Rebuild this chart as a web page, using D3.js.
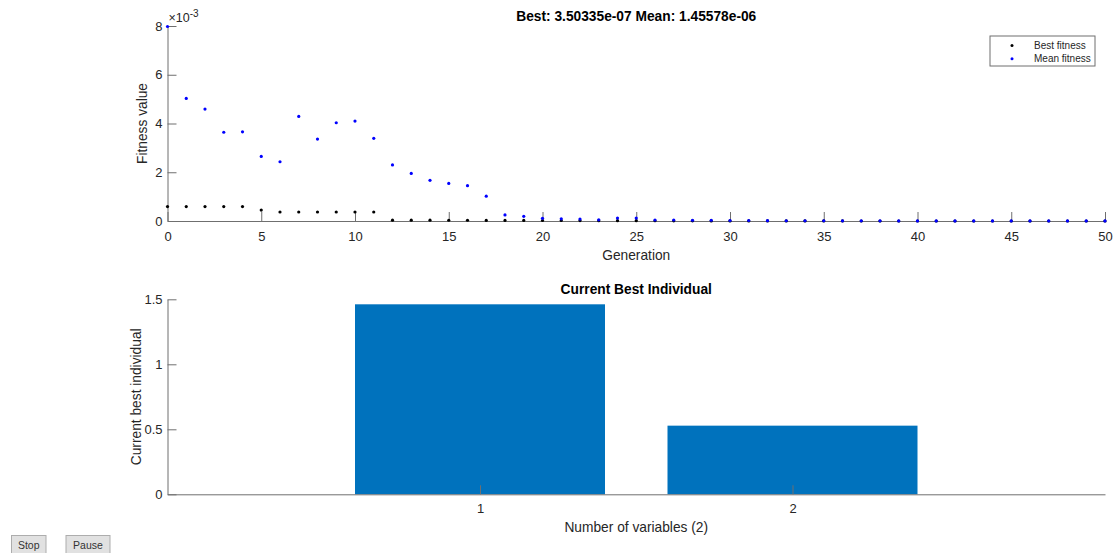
<!DOCTYPE html>
<html>
<head>
<meta charset="utf-8">
<script src="https://cdn.jsdelivr.net/npm/d3@7"></script>
<style>
  html, body { margin: 0; padding: 0; background: #fff; }
  svg { display: block; font-family: "Liberation Sans", Arial, Helvetica, sans-serif; }
</style>
</head>
<body>
<svg id="chart" width="1114" height="553"></svg>
<script>
// Genetic algorithm progress: fitness per generation and the current best individual.
const generations = d3.range(0, 51);
const bestFitness = [
  0.59e-3, 0.59e-3, 0.59e-3, 0.59e-3, 0.59e-3, 0.45e-3, 0.37e-3, 0.37e-3, 0.37e-3, 0.37e-3,
  0.37e-3, 0.37e-3, 0.035e-3, 0.035e-3, 0.035e-3, 0.03e-3, 0.03e-3, 0.025e-3, 0.025e-3, 0.025e-3,
  0.02e-3, 0.02e-3, 0.018e-3, 0.015e-3, 0.015e-3, 0.012e-3, 0.01e-3, 0.008e-3, 0.006e-3, 0.005e-3,
  0.004e-3, 0.003e-3, 0.003e-3, 0.002e-3, 0.002e-3, 0.0015e-3, 0.0012e-3, 0.001e-3, 0.0009e-3, 0.0008e-3,
  0.0007e-3, 0.0006e-3, 0.0005e-3, 0.0005e-3, 0.0004e-3, 0.0004e-3, 0.0004e-3, 0.00036e-3, 0.00035e-3, 0.00035e-3,
  3.50335e-07
];
const meanFitness = [
  7.98e-3, 5.03e-3, 4.59e-3, 3.64e-3, 3.66e-3, 2.65e-3, 2.43e-3, 4.29e-3, 3.36e-3, 4.03e-3,
  4.10e-3, 3.39e-3, 2.30e-3, 1.95e-3, 1.67e-3, 1.54e-3, 1.45e-3, 1.02e-3, 0.25e-3, 0.19e-3,
  0.11e-3, 0.09e-3, 0.08e-3, 0.05e-3, 0.12e-3, 0.12e-3, 0.04e-3, 0.04e-3, 0.03e-3, 0.03e-3,
  0.02e-3, 0.02e-3, 0.015e-3, 0.01e-3, 0.01e-3, 0.01e-3, 0.008e-3, 0.007e-3, 0.006e-3, 0.005e-3,
  0.005e-3, 0.004e-3, 0.004e-3, 0.003e-3, 0.003e-3, 0.003e-3, 0.002e-3, 0.002e-3, 0.002e-3, 0.0015e-3,
  1.45578e-06
];
const fitnessTicks = [0, 0.002, 0.004, 0.006, 0.008];
const generationTicks = [0, 5, 10, 15, 20, 25, 30, 35, 40, 45, 50];

const variableIndex = [1, 2];
const bestIndividual = [1.4615, 0.528];
const individualTicks = [0, 0.5, 1, 1.5];

const legendLabels = ["Best fitness", "Mean fitness"];
const seriesColors = ["#000000", "#0000ff"];

const svg = d3.select("#chart");
const axisColor = "#6f6f6f";
const textColor = "#262626";
const tickFont = 13;
const labelFont = 13.75;

function styleAxis(g) {
  g.select(".domain").attr("stroke", axisColor).attr("stroke-width", 1);
  g.selectAll(".tick line").attr("stroke", axisColor).attr("stroke-width", 1);
  g.selectAll(".tick text").attr("fill", textColor).attr("font-size", tickFont)
    .attr("font-family", "Liberation Sans, Arial, sans-serif");
}

// ---------- Fitness plot ----------
const fitBox = { left: 167.5, right: 1105, top: 26, bottom: 221 };
const xGen = d3.scaleLinear().domain([0, 50]).range([fitBox.left, fitBox.right]);
const yFit = d3.scaleLinear().domain([0, 0.008]).range([fitBox.bottom, fitBox.top]);

svg.append("g")
  .attr("transform", `translate(0,${fitBox.bottom})`)
  .call(d3.axisBottom(xGen).tickValues(generationTicks).tickSizeInner(-9).tickSizeOuter(0).tickPadding(10.5))
  .call(styleAxis);

svg.append("g")
  .attr("transform", `translate(${fitBox.left},0)`)
  .call(d3.axisLeft(yFit).tickValues(fitnessTicks).tickFormat(d => d3.format("d")(Math.round(d * 1000)))
    .tickSizeInner(-9).tickSizeOuter(0).tickPadding(5))
  .call(styleAxis);

// exponent marker above the y axis
const expo = svg.append("text").attr("x", fitBox.left + 1).attr("y", 22)
  .attr("font-size", 12.5).attr("fill", textColor);
expo.append("tspan").text("\u00d710");
expo.append("tspan").attr("dy", -5).attr("font-size", 10).text("-3");

const seriesList = [bestFitness, meanFitness];
seriesList.forEach((vals, i) => {
  svg.append("g").selectAll("circle")
    .data(generations)
    .join("circle")
    .attr("cx", d => xGen(d))
    .attr("cy", d => yFit(vals[d]))
    .attr("r", 1.6)
    .attr("fill", seriesColors[i]);
});

svg.append("text")
  .attr("x", (fitBox.left + fitBox.right) / 2).attr("y", 20.5)
  .attr("text-anchor", "middle").attr("font-weight", "bold")
  .attr("font-size", labelFont).attr("fill", "#000")
  .text("Best: 3.50335e-07 Mean: 1.45578e-06");

svg.append("text")
  .attr("x", (fitBox.left + fitBox.right) / 2).attr("y", 260)
  .attr("text-anchor", "middle").attr("font-size", labelFont).attr("fill", textColor)
  .text("Generation");

svg.append("text")
  .attr("transform", `translate(147,${(fitBox.top + fitBox.bottom) / 2}) rotate(-90)`)
  .attr("text-anchor", "middle").attr("font-size", labelFont).attr("fill", textColor)
  .text("Fitness value");

// legend
const legend = svg.append("g").attr("transform", "translate(990,36)");
legend.append("rect").attr("width", 105).attr("height", 30)
  .attr("fill", "#fff").attr("stroke", "#6f6f6f").attr("stroke-width", 1);
legendLabels.forEach((lab, i) => {
  const yy = 9.5 + i * 13.3;
  legend.append("circle").attr("cx", 22).attr("cy", yy).attr("r", 1.5).attr("fill", seriesColors[i]);
  legend.append("text").attr("x", 44).attr("y", yy + 3.6)
    .attr("font-size", 10).attr("fill", textColor).text(lab);
});

// ---------- Current best individual ----------
const indBox = { left: 167.5, right: 1105, top: 299.3, bottom: 494.3 };
const xVar = d3.scaleLinear().domain([0, 3]).range([indBox.left, indBox.right]);
const yInd = d3.scaleLinear().domain([0, 1.5]).range([indBox.bottom, indBox.top]);
const barWidth = 0.8;

svg.append("g").selectAll("rect")
  .data(variableIndex)
  .join("rect")
  .attr("x", d => xVar(d - barWidth / 2))
  .attr("width", xVar(barWidth) - xVar(0))
  .attr("y", (d, i) => yInd(bestIndividual[i]))
  .attr("height", (d, i) => yInd(0) - yInd(bestIndividual[i]))
  .attr("fill", "#0072bd");

svg.append("g")
  .attr("transform", `translate(0,${indBox.bottom})`)
  .call(d3.axisBottom(xVar).tickValues(variableIndex).tickFormat(d3.format("d"))
    .tickSizeInner(-9).tickSizeOuter(0).tickPadding(9.5))
  .call(styleAxis);

svg.append("g")
  .attr("transform", `translate(${indBox.left},0)`)
  .call(d3.axisLeft(yInd).tickValues(individualTicks).tickFormat(d => String(d))
    .tickSizeInner(-9).tickSizeOuter(0).tickPadding(5))
  .call(styleAxis);

svg.append("text")
  .attr("x", (indBox.left + indBox.right) / 2).attr("y", 294)
  .attr("text-anchor", "middle").attr("font-weight", "bold")
  .attr("font-size", labelFont).attr("fill", "#000")
  .text("Current Best Individual");

svg.append("text")
  .attr("x", (indBox.left + indBox.right) / 2).attr("y", 532)
  .attr("text-anchor", "middle").attr("font-size", labelFont).attr("fill", textColor)
  .text("Number of variables (2)");

svg.append("text")
  .attr("transform", `translate(141,${(indBox.top + indBox.bottom) / 2}) rotate(-90)`)
  .attr("text-anchor", "middle").attr("font-size", labelFont).attr("fill", textColor)
  .text("Current best individual");

// ---------- Control buttons ----------
const buttons = [
  { label: "Stop", x: 11.5, w: 34.5 },
  { label: "Pause", x: 66, w: 44 }
];
buttons.forEach(b => {
  svg.append("rect").attr("x", b.x).attr("y", 535.5).attr("width", b.w).attr("height", 20)
    .attr("fill", "#e1e1e1").attr("stroke", "#adadad").attr("stroke-width", 1);
  svg.append("text").attr("x", b.x + b.w / 2).attr("y", 549)
    .attr("text-anchor", "middle").attr("font-size", 10.5).attr("fill", "#333").text(b.label);
});
</script>
</body>
</html>
